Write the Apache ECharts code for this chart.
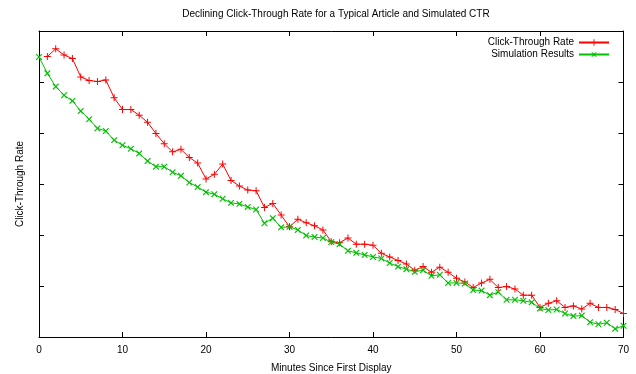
<!DOCTYPE html>
<html lang="en">
<head>
  <meta charset="UTF-8">
  <title>Declining Click-Through Rate</title>
  <style>
    html, body { margin: 0; padding: 0; background: #fff; }
    #main { width: 636px; height: 374px; }
  </style>
</head>
<body>
  <div id="main"></div>
</body>
<script src="https://cdn.jsdelivr.net/npm/echarts@6/dist/echarts.min.js"></script>
<script>
  var chart = echarts.init(document.getElementById('main'));

  // minutes 1..70 for the measured CTR, 0..70 for the simulation
  var ctrMinutes = [];
  for (var i = 1; i <= 70; i++) ctrMinutes.push(i);
  var simMinutes = [0].concat(ctrMinutes);

  // values (axis units, no labels shown on the y axis)
  var ctrValues = [
    5.50, 5.65, 5.53, 5.46, 5.10, 5.03, 5.01, 5.04, 4.69, 4.46,
    4.46, 4.35, 4.21, 3.99, 3.79, 3.63, 3.68, 3.52, 3.41, 3.10,
    3.19, 3.39, 3.07, 2.96, 2.88, 2.87, 2.54, 2.62, 2.39, 2.16,
    2.31, 2.24, 2.18, 2.10, 1.87, 1.85, 1.94, 1.82, 1.82, 1.80,
    1.64, 1.57, 1.50, 1.43, 1.31, 1.38, 1.27, 1.37, 1.27, 1.15,
    1.08, 0.97, 1.06, 1.13, 0.97, 0.99, 0.94, 0.82, 0.82, 0.58,
    0.66, 0.71, 0.58, 0.61, 0.55, 0.66, 0.58, 0.58, 0.54, 0.46
  ];
  var simValues = [
    5.49,
    5.17, 4.91, 4.74, 4.63, 4.43, 4.27, 4.09, 4.04, 3.86, 3.76,
    3.69, 3.60, 3.45, 3.34, 3.34, 3.23, 3.16, 3.03, 2.94, 2.84,
    2.80, 2.71, 2.63, 2.61, 2.55, 2.50, 2.23, 2.33, 2.15, 2.16,
    2.10, 1.99, 1.96, 1.94, 1.86, 1.82, 1.69, 1.65, 1.61, 1.57,
    1.54, 1.45, 1.38, 1.33, 1.28, 1.31, 1.20, 1.22, 1.06, 1.06,
    1.05, 0.92, 0.91, 0.82, 0.88, 0.73, 0.73, 0.71, 0.68, 0.56,
    0.53, 0.54, 0.46, 0.41, 0.42, 0.29, 0.25, 0.28, 0.16, 0.22
  ];

  function pairs(xs, ys) {
    return xs.map(function (x, k) { return [x, ys[k]]; });
  }

  var FONT = 'Liberation Sans';
  var plusPath = 'path://M3,0h1v3h3v1h-3v3h-1v-3h-3v-1h3z';

  var tickAxis = {
    axisLine: { show: true, onZero: false, lineStyle: { color: '#000', width: 1 } },
    axisTick: { show: true, inside: true, length: 5, lineStyle: { color: '#000', width: 1 } },
    splitLine: { show: false }
  };

  option = {
    animation: false,
    backgroundColor: '#fff',
    textStyle: { fontFamily: FONT },
    title: {
      text: 'Declining Click-Through Rate for a Typical Article and Simulated CTR',
      left: 331,
      textAlign: 'center',
      top: 4,
      textStyle: { fontFamily: FONT, fontSize: 10, fontWeight: 'normal', color: '#000' }
    },
    legend: {
      orient: 'vertical',
      right: 24,
      top: 35,
      align: 'right',
      itemWidth: 30,
      itemHeight: 8,
      itemGap: 1,
      padding: 2,
      textStyle: { fontFamily: FONT, fontSize: 10, color: '#000', lineHeight: 11 },
      data: ['Click-Through Rate', 'Simulation Results']
    },
    grid: { left: 39, right: 12.5, top: 31, bottom: 37, outerBoundsMode: 'none' },
    xAxis: [
      Object.assign({}, tickAxis, {
        type: 'value', min: 0, max: 70, interval: 10,
        name: 'Minutes Since First Display',
        nameLocation: 'middle', nameGap: 26,
        nameTextStyle: { fontFamily: FONT, fontSize: 10, color: '#000' },
        axisLabel: { margin: 8, fontFamily: FONT, fontSize: 10, color: '#000' }
      }),
      Object.assign({}, tickAxis, {
        type: 'value', min: 0, max: 70, interval: 10, position: 'top',
        axisLabel: { show: false }
      })
    ],
    yAxis: [
      Object.assign({}, tickAxis, {
        type: 'value', min: 0, max: 6, interval: 1,
        name: 'Click-Through Rate',
        nameLocation: 'middle', nameGap: 14,
        nameTextStyle: { fontFamily: FONT, fontSize: 10, color: '#000' },
        axisLabel: { show: false }
      }),
      Object.assign({}, tickAxis, {
        type: 'value', min: 0, max: 6, interval: 1, position: 'right',
        axisLabel: { show: false }
      })
    ],
    series: [
      {
        name: 'Click-Through Rate',
        type: 'line',
        data: pairs(ctrMinutes, ctrValues),
        symbol: plusPath,
        symbolSize: 7,
        showAllSymbol: true,
        color: '#ff0000',
        lineStyle: { width: 1, color: '#ff0000' },
        itemStyle: { color: '#ff0000' }
      },
      {
        name: 'Simulation Results',
        type: 'line',
        data: pairs(simMinutes, simValues),
        symbol: plusPath,
        symbolSize: 8,
        symbolRotate: 45,
        showAllSymbol: true,
        color: '#00c000',
        lineStyle: { width: 1, color: '#00c000' },
        itemStyle: { color: '#00c000' }
      }
    ]
  };

  chart.setOption(option);
</script>
</html>
